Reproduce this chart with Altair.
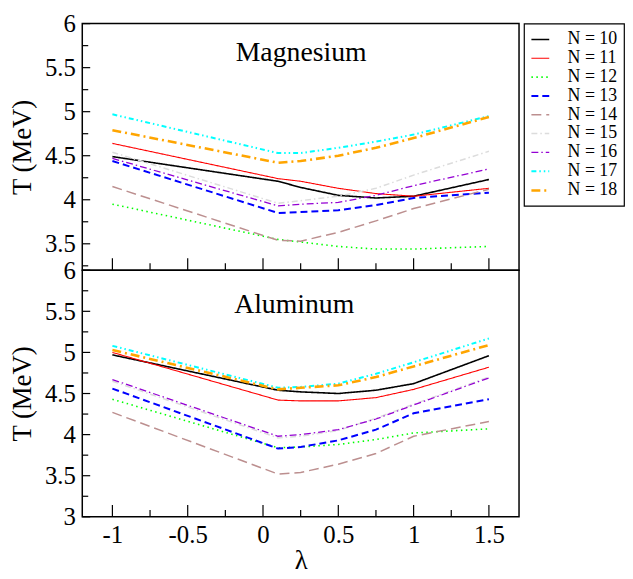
import altair as alt
import pandas as pd

# ---- data ----
lam = [-1.0, 0.1, 0.25, 0.5, 0.75, 1.0, 1.5]
names = ["N = 10", "N = 11", "N = 12", "N = 13", "N = 14",
         "N = 15", "N = 16", "N = 17", "N = 18"]

# Magnesium
mg_10 = [4.49, 4.21, 4.14, 4.05, 4.02, 4.04, 4.23]
mg_11 = [4.64, 4.24, 4.21, 4.13, 4.07, 4.04, 4.13]
mg_12 = [3.95, 3.55, 3.52, 3.47, 3.44, 3.44, 3.47]
mg_13 = [4.44, 3.85, 3.86, 3.88, 3.94, 4.02, 4.08]
mg_14 = [4.15, 3.54, 3.53, 3.63, 3.76, 3.90, 4.12]
mg_15 = [4.54, 3.96, 3.99, 4.04, 4.13, 4.28, 4.55]
mg_16 = [4.47, 3.93, 3.95, 3.97, 4.05, 4.16, 4.35]
mg_17 = [4.97, 4.53, 4.53, 4.59, 4.66, 4.74, 4.95]
mg_18 = [4.79, 4.42, 4.44, 4.50, 4.59, 4.70, 4.94]

# Aluminum
al_10 = [4.97, 4.54, 4.52, 4.50, 4.54, 4.62, 4.96]
al_11 = [5.00, 4.42, 4.41, 4.41, 4.45, 4.55, 4.82]
al_12 = [4.43, 3.84, 3.85, 3.88, 3.94, 4.02, 4.07]
al_13 = [4.56, 3.83, 3.85, 3.93, 4.06, 4.26, 4.43]
al_14 = [4.27, 3.52, 3.54, 3.64, 3.77, 3.98, 4.16]
al_15 = [4.65, 3.96, 3.98, 4.05, 4.20, 4.37, 4.70]
al_16 = [4.67, 3.98, 4.00, 4.06, 4.19, 4.36, 4.69]
al_17 = [5.08, 4.57, 4.58, 4.62, 4.74, 4.88, 5.17]
al_18 = [5.03, 4.55, 4.57, 4.60, 4.70, 4.83, 5.09]

x_major = [-1, -0.5, 0, 0.5, 1, 1.5]
x_minor = [-0.75, -0.25, 0.25, 0.75, 1.25]
mg_y_major = [3.5, 4, 4.5, 5, 5.5, 6]
mg_y_minor = [3.25, 3.75, 4.25, 4.75, 5.25, 5.75]
al_y_major = [3, 3.5, 4, 4.5, 5, 5.5, 6]
al_y_minor = [3.25, 3.75, 4.25, 4.75, 5.25, 5.75]

# ---- styles ----
colors = ["#000000", "#ff0000", "#00ff00", "#0000ff", "#bc8f8f",
          "#dcdcdc", "#9400d3", "#00ffff", "#ffa500"]
dashes = [[1, 0], [1, 0], [1.5, 3.5], [7, 4], [10, 5],
          [6, 3, 1.5, 3], [7, 3, 1.5, 3], [5, 3, 1.5, 3, 1.5, 3], [9, 4, 2, 4]]
widths = [1.6, 1.1, 1.6, 2.0, 1.5, 1.5, 1.3, 2.0, 2.6]

FONT = "Liberation Serif"
W = 441
H_TOP = 249
H_BOT = 249


def long_df(series):
    rows = []
    for name, vals in zip(names, series):
        for x, t in zip(lam, vals):
            rows.append({"lam": x, "T": t, "N": name})
    return pd.DataFrame(rows)


mg_df = long_df([mg_10, mg_11, mg_12, mg_13, mg_14, mg_15, mg_16, mg_17, mg_18])
al_df = long_df([al_10, al_11, al_12, al_13, al_14, al_15, al_16, al_17, al_18])

xscale = alt.Scale(domain=[-1.2, 1.7], nice=False, zero=False)

AX = dict(labelFont=FONT, labelFontSize=25, labelColor="black",
          titleFont=FONT, titleFontSize=27, titleFontWeight="normal",
          titleColor="black", domain=False, ticks=False, grid=False,
          labelExpr="'' + datum.value")


def panel(df, label, lx, ly, ymin, ymaj, ymin_ticks, show_x, height):
    yscale = alt.Scale(domain=[ymin, 6], nice=False, zero=False)
    yaxis = alt.Axis(values=ymaj, title="T (MeV)", labelPadding=7, titlePadding=8, **AX)
    if show_x:
        xaxis = alt.Axis(values=x_major, title="λ", labelPadding=6, titlePadding=0, **AX)
    else:
        xaxis = None
    lines = alt.Chart(df).mark_line(clip=True).encode(
        x=alt.X("lam:Q", scale=xscale, axis=xaxis),
        y=alt.Y("T:Q", scale=yscale, axis=yaxis),
        color=alt.Color("N:N", scale=alt.Scale(domain=names, range=colors), title=None),
        strokeDash=alt.StrokeDash("N:N", scale=alt.Scale(domain=names, range=dashes),
                                  title=None),
        strokeWidth=alt.StrokeWidth("N:N", scale=alt.Scale(type="ordinal", domain=names,
                                                           range=widths), title=None),
    )
    xt_major = alt.Chart(pd.DataFrame({"lam": x_major})).mark_rule(
        color="black", strokeWidth=1.2).encode(
        x=alt.X("lam:Q", scale=xscale, axis=xaxis),
        y=alt.value(height), y2=alt.value(height - 12))
    xt_minor = alt.Chart(pd.DataFrame({"lam": x_minor})).mark_rule(
        color="black", strokeWidth=1.2).encode(
        x=alt.X("lam:Q", scale=xscale, axis=xaxis),
        y=alt.value(height), y2=alt.value(height - 7))
    yt_major = alt.Chart(pd.DataFrame({"T": ymaj})).mark_rule(
        color="black", strokeWidth=1.2).encode(
        y=alt.Y("T:Q", scale=yscale, axis=yaxis),
        x=alt.value(0), x2=alt.value(8))
    yt_minor = alt.Chart(pd.DataFrame({"T": ymin_ticks})).mark_rule(
        color="black", strokeWidth=1.2).encode(
        y=alt.Y("T:Q", scale=yscale, axis=yaxis),
        x=alt.value(0), x2=alt.value(6))
    title = alt.Chart(pd.DataFrame({"t": [label]})).mark_text(
        font=FONT, fontSize=28, align="center", baseline="alphabetic",
        color="black").encode(
        text="t:N", x=alt.value(lx), y=alt.value(ly))
    return alt.layer(lines, xt_major, xt_minor, yt_major, yt_minor, title).properties(
        width=W, height=height)


top = panel(mg_df, "Magnesium", 221, 38, 3.2, mg_y_major, mg_y_minor, False, H_TOP)
bot = panel(al_df, "Aluminum", 214, 43, 3.0, al_y_major, al_y_minor, True, H_BOT)

chart = alt.vconcat(top, bot, spacing=0, bounds="flush", padding=0).configure(
    font=FONT
).configure_view(
    stroke="black", strokeWidth=1.5
).configure_axis(
    labelFont=FONT, titleFont=FONT
).configure_legend(
    orient="right", offset=4, padding=6, strokeColor="black", strokeWidth=1.2,
    labelFont=FONT, labelFontSize=18, labelColor="black", labelOffset=17,
    symbolType="stroke", symbolSize=324, rowPadding=0, cornerRadius=0,
)

chart.save("out.html", embed_options={"renderer": "svg", "actions": False})
